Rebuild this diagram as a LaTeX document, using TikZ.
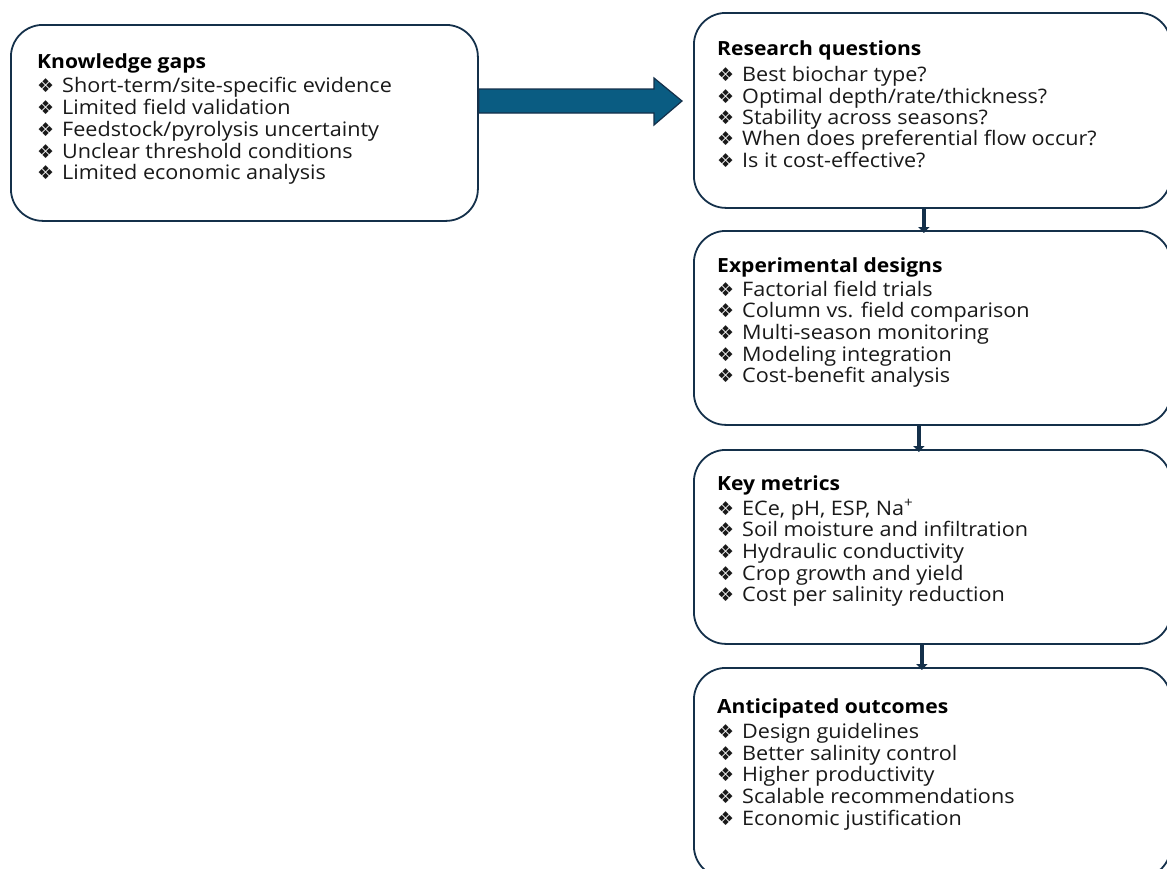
\documentclass[tikz,border=0pt]{standalone}
\usepackage{fontspec}
\setmainfont[FakeStretch=1.08]{Open Sans}
\newfontfamily\symfont{DejaVu Sans}
\usetikzlibrary{arrows.meta,calc}
\definecolor{navy}{HTML}{14304A}
\definecolor{arrowblue}{HTML}{0A5C82}
\newcommand\bul{\makebox[25pt][l]{\symfont\fontsize{19}{19}\selectfont ❖}}
\tikzset{
  panel/.style={draw=navy, line width=1.8pt, rounded corners=32pt, fill=white, inner sep=0pt},
  headtext/.style={anchor=base west, inner sep=0pt, font=\fontsize{19.5}{21}\selectfont\bfseries, text=black},
  itemtext/.style={anchor=base west, inner sep=0pt, font=\fontsize{20}{21}\selectfont, text=black!90},
  flow/.style={draw=navy, line width=4.5pt, -{Triangle[width=11pt,length=6pt]}},
  bigarrow/.style={fill=arrowblue, draw=navy, line width=1.2pt, line join=miter},
}
\begin{document}
\begin{tikzpicture}[x=1pt,y=-1pt]
\useasboundingbox (0,0) rectangle (1167,868);
\clip (0,0) rectangle (1167,868);
\fill[white] (0,0) rectangle (1167,868);

% panels
\node[panel, anchor=north west, minimum width=467pt, minimum height=196pt] (kg) at (10,24) {};
\node[panel, anchor=north west, minimum width=477pt, minimum height=195pt] (rq) at (693,12) {};
\node[panel, anchor=north west, minimum width=477pt, minimum height=194pt] (ed) at (693,230) {};
\node[panel, anchor=north west, minimum width=477pt, minimum height=194pt] (km) at (693,449) {};
\node[panel, anchor=north west, minimum width=477pt, minimum height=210pt] (ao) at (693,667) {};

% texts
\node[headtext] (kgh) at (37,68) {Knowledge gaps};
\foreach \t [count=\i] in {Short-term/site-specific evidence, Limited field validation, Feedstock/pyrolysis uncertainty, Unclear threshold conditions, Limited economic analysis}
  \node[itemtext] (kg\i) at (37,{92.7+21.8*(\i-1)}) {\bul\t};

\node[headtext] (rqh) at (717,55) {Research questions};
\foreach \t [count=\i] in {Best biochar type?, Optimal depth/rate/thickness?, Stability across seasons?, When does preferential flow occur?, Is it cost-effective?}
  \node[itemtext] (rq\i) at (717,{81.7+21.4*(\i-1)}) {\bul\t};

\node[headtext] (edh) at (717,272.7) {Experimental designs};
\foreach \t [count=\i] in {Factorial field trials, Column vs. field comparison, Multi-season monitoring, Modeling integration, Cost-benefit analysis}
  \node[itemtext] (ed\i) at (717,{296+21.7*(\i-1)}) {\bul\t};

\node[headtext] (kmh) at (717,490.7) {Key metrics};
\foreach \t [count=\i] in {{ECe, pH, ESP, Na\textsuperscript{+}}, Soil moisture and infiltration, Hydraulic conductivity, Crop growth and yield, Cost per salinity reduction}
  \node[itemtext] (km\i) at (717,{515+21.7*(\i-1)}) {\bul\t};

\node[headtext] (aoh) at (717,713.3) {Anticipated outcomes};
\foreach \t [count=\i] in {Design guidelines, Better salinity control, Higher productivity, Scalable recommendations, Economic justification}
  \node[itemtext] (ao\i) at (717,{738.3+21.7*(\i-1)}) {\bul\t};

% big arrow
\coordinate (ay) at (0,101);
\coordinate (as) at (kg.east |- ay);
\coordinate (ae) at (rq.west |- ay);
\draw[bigarrow] ($(as)+(0,-12)$) -- ($(ae)+(-39,-12)$) -- ($(ae)+(-39,-23)$) -- ($(ae)+(-11,0)$) -- ($(ae)+(-39,24)$) -- ($(ae)+(-39,12)$) -- ($(as)+(0,12)$) -- cycle;

% vertical connectors
\draw[flow] ($(rq.south)+(-8.5,-1)$) -- ($(ed.north)+(-8.5,3)$);
\draw[flow] ($(ed.south)+(-13.5,-1)$) -- ($(km.north)+(-13.5,3)$);
\draw[flow] ($(km.south)+(-10.5,-1)$) -- ($(ao.north)+(-10.5,3)$);
\end{tikzpicture}
\end{document}
